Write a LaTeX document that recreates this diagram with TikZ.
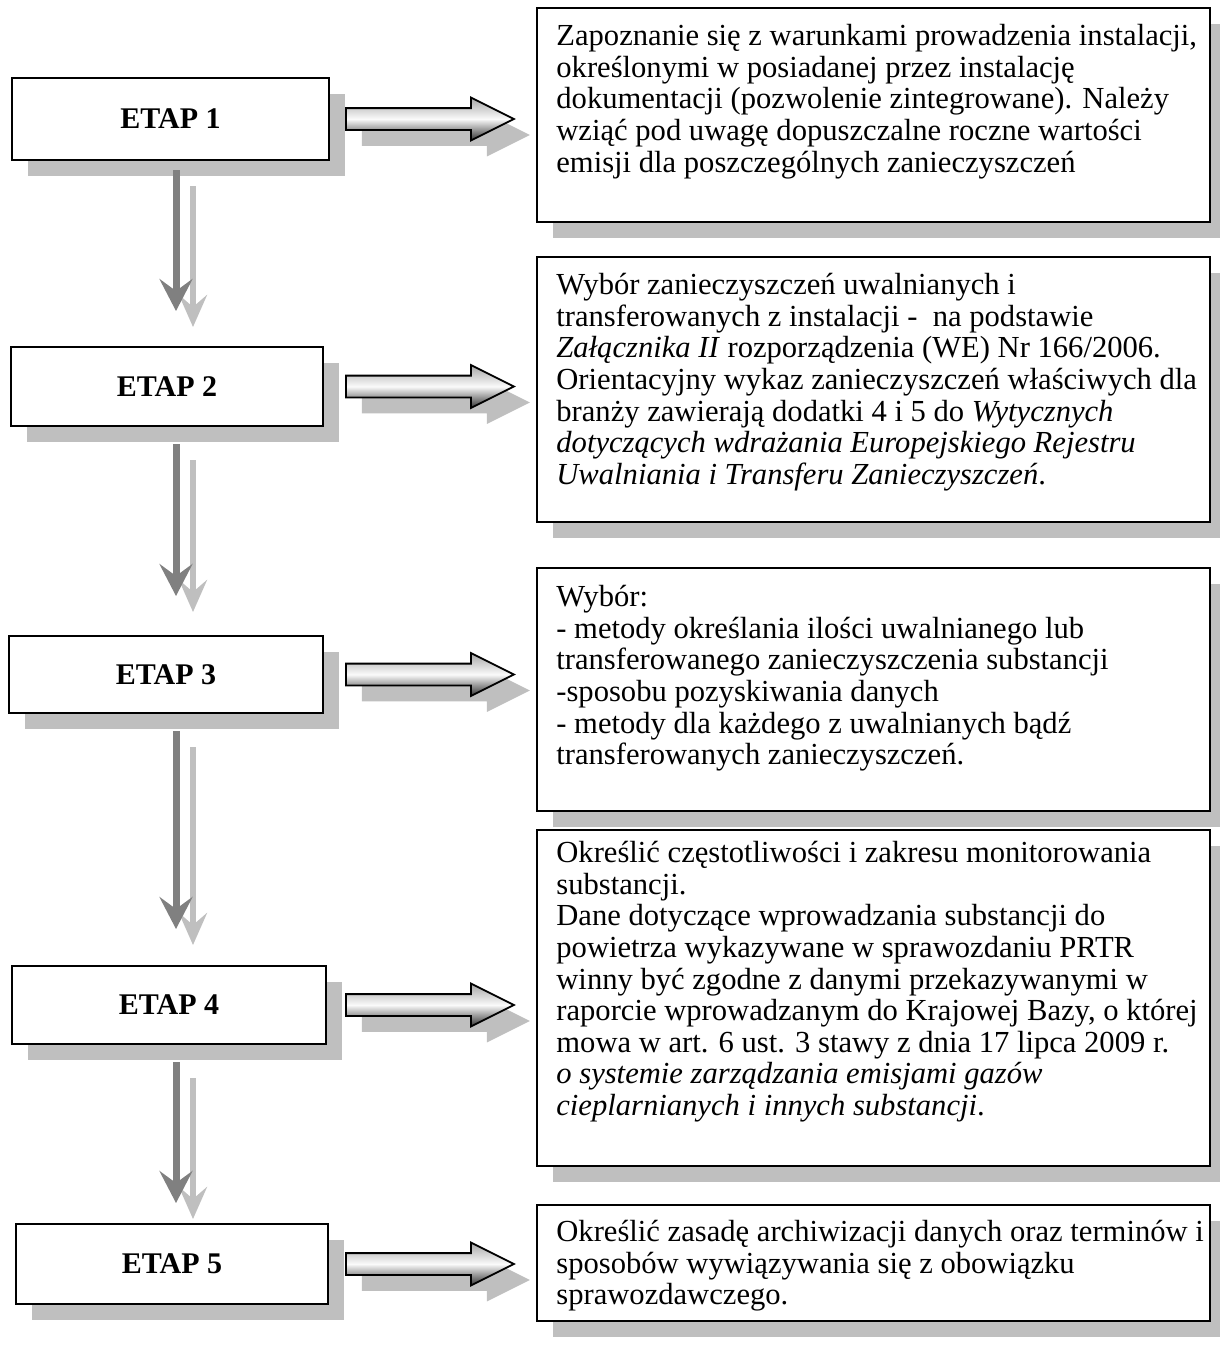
\documentclass[tikz,border=0pt]{standalone}
\usepackage{fontspec}
\setmainfont{Liberation Serif}
\usetikzlibrary{shadows,shapes.arrows,arrows.meta,fit}

\begin{document}
\begin{tikzpicture}[x=0.5pt, y=-0.5pt,
    font=\fontsize{15.3}{15.8}\selectfont,
    every label/.style={font=\fontsize{15}{15.75}\selectfont\bfseries, inner sep=0pt},
    cien/.style={drop shadow={shadow xshift=8pt, shadow yshift=-8pt, fill=black!25, opacity=1}},
    etap/.style={draw, line width=1pt, fill=white, inner sep=0pt, label=center:#1, cien},
    opis/.style={draw, line width=1pt, fill=white, inner sep=0pt, cien},
    opistekst/.style={anchor=north west, align=left, inner sep=0pt},
    blok/.style={single arrow, draw, line width=0.9pt, anchor=west, minimum height=84pt,
      inner xsep=0pt, inner ysep=5pt, single arrow head extend=5.25pt, single arrow tip angle=53,
      top color=black!35, bottom color=black!80, middle color=black!2, cien},
    ciemna/.style={draw=black!50, line width=3.5pt, -{Stealth[length=16pt, width=16.5pt, inset=6pt]}},
    jasna/.style={draw=black!25, line width=3pt, -{Stealth[length=16pt, width=14pt, inset=6pt]}}]

    \useasboundingbox (0,0) rectangle (1220,1357);

    % etapy
    \node[etap=ETAP 1, fit={(12,78) (329,160)}] (e1) {};
    \node[etap=ETAP 2, fit={(11,347) (323,426)}] (e2) {};
    \node[etap=ETAP 3, fit={(9,636) (323,713)}] (e3) {};
    \node[etap=ETAP 4, fit={(12,966) (326,1044)}] (e4) {};
    \node[etap=ETAP 5, fit={(16,1224) (328,1304)}] (e5) {};

    % opisy
    \node[opis, fit={(537,8) (1210,222)}] (d1) {};
    \node[opis, fit={(537,257) (1210,522)}] (d2) {};
    \node[opis, fit={(537,568) (1210,811)}] (d3) {};
    \node[opis, fit={(537,830) (1210,1166)}] (d4) {};
    \node[opis, fit={(537,1205) (1210,1321)}] (d5) {};

    \node[opistekst] (t1) at ([shift={(20,17)}]d1.north west) {Zapoznanie się z warunkami prowadzenia instalacji,\\
      określonymi w posiadanej przez instalację\\
      dokumentacji (pozwolenie zintegrowane). Należy\\
      wziąć pod uwagę dopuszczalne roczne wartości\\
      emisji dla poszczególnych zanieczyszczeń};
    \node[opistekst] (t2) at ([shift={(20,17)}]d2.north west) {Wybór zanieczyszczeń uwalnianych i\\
      transferowanych z instalacji -\ \ na podstawie\\
      \textit{Załącznika II} rozporządzenia (WE) Nr 166/2006.\\
      Orientacyjny wykaz zanieczyszczeń właściwych dla\\
      branży zawierają dodatki 4 i 5 do \textit{Wytycznych}\\
      \textit{dotyczących wdrażania Europejskiego Rejestru}\\
      \textit{Uwalniania i Transferu Zanieczyszczeń}.};
    \node[opistekst] (t3) at ([shift={(20,18)}]d3.north west) {Wybór:\\
      - metody określania ilości uwalnianego lub\\
      transferowanego zanieczyszczenia substancji\\
      -sposobu pozyskiwania danych\\
      - metody dla każdego z uwalnianych bądź\\
      transferowanych zanieczyszczeń.};
    \node[opistekst] (t4) at ([shift={(20,12)}]d4.north west) {Określić częstotliwości i zakresu monitorowania\\
      substancji.\\
      Dane dotyczące wprowadzania substancji do\\
      powietrza wykazywane w sprawozdaniu PRTR\\
      winny być zgodne z danymi przekazywanymi w\\
      raporcie wprowadzanym do Krajowej Bazy, o której\\
      mowa w art. 6 ust. 3 stawy z dnia 17 lipca 2009 r.\\
      \textit{o systemie zarządzania emisjami gazów}\\
      \textit{cieplarnianych i innych substancji}.};
    \node[opistekst] (t5) at ([shift={(20,16)}]d5.north west) {Określić zasadę archiwizacji danych oraz terminów i\\
      sposobów wywiązywania się z obowiązku\\
      sprawozdawczego.};

    % strzalki w prawo
    \coordinate (kol) at (345,0);
    \node[blok] (s1) at (e1.east -| kol) {};
    \node[blok] (s2) at (e2.east -| kol) {};
    \node[blok] (s3) at (e3.east -| kol) {};
    \node[blok] (s4) at (e4.east -| kol) {};
    \node[blok] (s5) at (e5.east -| kol) {};

    % strzalki w dol
    \coordinate (c1) at (176,0);
    \coordinate (c2) at (193,0);
    \draw[jasna, shorten <=12.5pt, shorten >=9.5pt] (e1.south -| c2) -- (e2.north -| c2);
    \draw[ciemna, shorten <=4.5pt, shorten >=17.5pt] (e1.south -| c1) -- (e2.north -| c1);
    \draw[jasna, shorten <=16.5pt, shorten >=11.5pt] (e2.south -| c2) -- (e3.north -| c2);
    \draw[ciemna, shorten <=8.5pt, shorten >=19.5pt] (e2.south -| c1) -- (e3.north -| c1);
    \draw[jasna, shorten <=16.5pt, shorten >=10pt] (e3.south -| c2) -- (e4.north -| c2);
    \draw[ciemna, shorten <=8.5pt, shorten >=18pt] (e3.south -| c1) -- (e4.north -| c1);
    \draw[jasna, shorten <=16.5pt, shorten >=2pt] (e4.south -| c2) -- (e5.north -| c2);
    \draw[ciemna, shorten <=8.5pt, shorten >=10pt] (e4.south -| c1) -- (e5.north -| c1);

  \end{tikzpicture}
\end{document}
